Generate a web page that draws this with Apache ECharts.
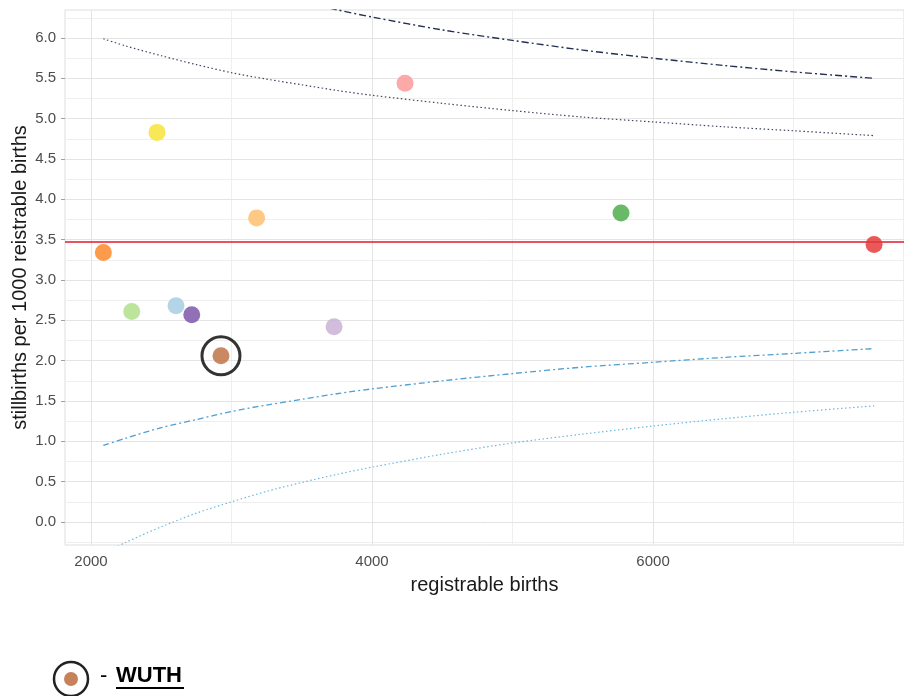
<!DOCTYPE html>
<html>
<head>
<meta charset="utf-8">
<script src="https://cdn.jsdelivr.net/npm/echarts@6/dist/echarts.min.js"></script>
<style>html,body{margin:0;padding:0;background:#fff;}#c{width:904px;height:696px;}</style>
</head>
<body>
<div id="c"></div>
<script>
// ---- data ----
const trustNames = ['T1','T2','T3','T4','T5','WUTH','T7','T8','T9','T10','T11'];
const births = [2088, 2470, 2290, 2605, 2717, 2925, 3179, 3730, 4235, 5772, 7573];
const rates  = [3.34, 4.83, 2.61, 2.68, 2.57, 2.06, 3.77, 2.42, 5.44, 3.83, 3.44];
const highlightName = 'WUTH';
const meanRate = 3.47;

const limitBirths = [2088, 2250, 2500, 2750, 3000, 3250, 3500, 3750, 4000, 4500, 5000, 5500, 6000, 6500, 7000, 7573];
const upperOuter = [7.33, 7.19, 7.00, 6.83, 6.69, 6.56, 6.45, 6.35, 6.26, 6.10, 5.97, 5.85, 5.75, 5.66, 5.58, 5.50];
const upperInner = [5.99, 5.90, 5.78, 5.67, 5.57, 5.49, 5.42, 5.35, 5.29, 5.19, 5.10, 5.02, 4.96, 4.90, 4.85, 4.79];
const lowerInner = [0.95, 1.04, 1.17, 1.27, 1.37, 1.45, 1.52, 1.59, 1.65, 1.75, 1.84, 1.92, 1.98, 2.04, 2.09, 2.15];
const lowerOuter = [-0.39, -0.25, -0.06, 0.11, 0.25, 0.38, 0.49, 0.59, 0.68, 0.84, 0.98, 1.09, 1.19, 1.28, 1.36, 1.44];

const xTicks = [2000, 4000, 6000];
const xMinorGrid = [3000, 5000, 7000];
const yTicks = [0, 0.5, 1, 1.5, 2, 2.5, 3, 3.5, 4, 4.5, 5, 5.5, 6];
const yMinorGrid = [-0.25, 0.25, 0.75, 1.25, 1.75, 2.25, 2.75, 3.25, 3.75, 4.25, 4.75, 5.25, 5.75, 6.25];

// ---- styles ----
const pointColors = ['#fd8a2e', '#f7e338', '#b2df8a', '#a6cee3', '#7e57ab', '#c07448', '#fdbf6f', '#cab2d6', '#fb9a99', '#4fae4c', '#e63b3b'];

const pts = births.map((b, i) => ({
  value: [b, rates[i]],
  name: trustNames[i],
  itemStyle: { color: pointColors[i], opacity: 0.85 }
}));
const hi = trustNames.indexOf(highlightName);
const lim = arr => limitBirths.map((b, i) => [b, arr[i]]);

const chart = echarts.init(document.getElementById('c'), null, { renderer: 'canvas' });
const FONT = 'Liberation Sans, Arial, sans-serif';
const labelStyle = { color: '#4d4d4d', fontSize: 15, fontFamily: FONT };
const gridLine = (c, w) => ({ color: c, width: w, type: 'solid' });

chart.setOption({
  animation: false,
  grid: { left: 65, right: 0, top: 10, bottom: 151, containLabel: false, outerBoundsMode: 'none',
          show: true, borderColor: '#dedede', borderWidth: 1 },
  xAxis: {
    type: 'value', min: 1815, max: 7786,
    name: 'registrable births', nameLocation: 'middle', nameGap: 30, nameMoveOverlap: false,
    nameTextStyle: { color: '#1a1a1a', fontSize: 20, fontFamily: FONT },
    axisLine: { show: true, lineStyle: { color: '#a0a0a0', width: 1 } },
    axisTick: { show: true, length: 4, customValues: xTicks, lineStyle: { color: '#a0a0a0' } },
    axisLabel: Object.assign({ customValues: xTicks, margin: 9, formatter: v => String(v) }, labelStyle),
    splitLine: { show: false }
  },
  yAxis: {
    type: 'value', min: -0.285, max: 6.347,
    name: 'stillbirths per 1000 reistrable births', nameLocation: 'middle', nameGap: 35, nameMoveOverlap: false,
    nameTextStyle: { color: '#1a1a1a', fontSize: 20, fontFamily: FONT },
    axisLine: { show: false },
    axisTick: { show: true, length: 4, customValues: yTicks, lineStyle: { color: '#a0a0a0' } },
    axisLabel: Object.assign({ customValues: yTicks, margin: 9, formatter: v => v.toFixed(1) }, labelStyle),
    splitLine: { show: false }
  },
  series: [
    { type: 'line', data: [], silent: true,
      markLine: { silent: true, symbol: 'none', z: 1, label: { show: false }, animation: false,
        data: [
          ...yMinorGrid.map(v => ({ yAxis: v, lineStyle: gridLine('#efefef', 1) })),
          ...xMinorGrid.map(v => ({ xAxis: v, lineStyle: gridLine('#efefef', 1) })),
          ...yTicks.map(v => ({ yAxis: v, lineStyle: gridLine('#e4e4e4', 1) })),
          ...xTicks.map(v => ({ xAxis: v, lineStyle: gridLine('#e4e4e4', 1) }))
        ] } },
    { type: 'line', data: lim(upperOuter), smooth: 0.3, showSymbol: false, z: 3, clip: true,
      lineStyle: { color: '#243050', width: 1.4, type: [7, 3, 2, 3] } },
    { type: 'line', data: lim(upperInner), smooth: 0.3, showSymbol: false, z: 3, clip: true,
      lineStyle: { color: '#3f4660', width: 1.2, type: [1.5, 2.5] } },
    { type: 'line', data: lim(lowerInner), smooth: 0.3, showSymbol: false, z: 3, clip: true,
      lineStyle: { color: '#4f9fd2', width: 1.3, type: [6, 3, 2, 3] } },
    { type: 'line', data: lim(lowerOuter), smooth: 0.3, showSymbol: false, z: 3, clip: true,
      lineStyle: { color: '#6ab8e0', width: 1.2, type: [1.5, 2.5] } },
    { type: 'line', data: [], silent: true,
      markLine: { silent: true, symbol: 'none', z: 4, label: { show: false }, animation: false,
        data: [{ yAxis: meanRate }], lineStyle: { color: '#e0182c', width: 1.5, type: 'solid' } } },
    { type: 'scatter', data: pts, symbolSize: 17, z: 5 },
    { type: 'scatter', data: [[births[hi], rates[hi]]], symbol: 'circle', symbolSize: 38, z: 6,
      itemStyle: { color: 'rgba(0,0,0,0)', borderColor: '#000', borderWidth: 3 } }
  ],
  graphic: [
    { type: 'circle', shape: { cx: 71, cy: 679, r: 17 }, style: { fill: '#fff', stroke: '#222', lineWidth: 2.5 } },
    { type: 'circle', shape: { cx: 71, cy: 679, r: 7 }, style: { fill: pointColors[hi], opacity: 0.9 } },
    { type: 'text', left: 100, top: 665, style: { text: '-', fontSize: 22, fill: '#000', fontFamily: FONT } },
    { type: 'text', left: 116, top: 665, style: { text: highlightName, fontSize: 22, fontWeight: 'bold', fill: '#000', fontFamily: FONT } },
    { type: 'line', shape: { x1: 116, y1: 688, x2: 184, y2: 688 }, style: { stroke: '#000', lineWidth: 2 } }
  ]
});
</script>
</body>
</html>
